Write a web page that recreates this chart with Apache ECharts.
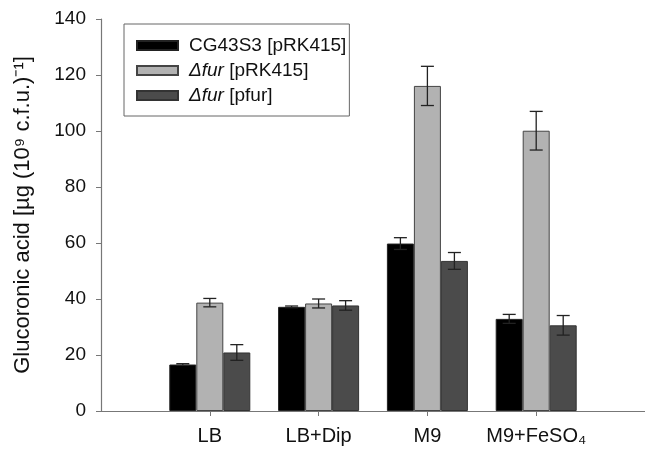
<!DOCTYPE html>
<html>
<head>
<meta charset="utf-8">
<script src="https://cdn.jsdelivr.net/npm/echarts@6/dist/echarts.min.js"></script>
<style>
    html, body { margin: 0; padding: 0; background: #fff; }
    #chart { width: 645px; height: 452px; }
</style>
</head>
<body>
<div id="chart"></div>
<script>
// 分组与数据
const groups = ['LB', 'LB+Dip', 'M9', 'M9+FeSO₄'];
const groupPos = [1, 2, 3, 4];
const seriesNames = ['CG43S3 [pRK415]', 'Δfur [pRK415]', 'Δfur [pfur]'];
const wtValues = [16.6, 37.2, 59.8, 32.9];
const wtErrors = [0.3, 0.3, 2.1, 1.6];
const furValues = [38.7, 38.4, 116.1, 100.1];
const furErrors = [1.5, 1.6, 7.0, 6.9];
const compValues = [20.9, 37.7, 53.6, 30.6];
const compErrors = [2.8, 1.7, 3.0, 3.5];

const font = '"Liberation Sans", Arial, Helvetica, sans-serif';
const barW = 27;

function toPairs(values) {
    return values.map((v, i) => [groupPos[i], v]);
}
function toErr(values, errs) {
    return values.map((v, i) => [groupPos[i], v, errs[i]]);
}

// 误差线
function errRender(offset) {
    return function (params, api) {
        var x = api.value(0), v = api.value(1), e = api.value(2);
        var top = api.coord([x, v + e]);
        var bot = api.coord([x, v - e]);
        var cx = top[0] + offset;
        var h = 6.5;
        var st = { stroke: '#222', lineWidth: 1.3 };
        return {
            type: 'group',
            children: [
                { type: 'line', shape: { x1: cx, y1: top[1], x2: cx, y2: bot[1] }, style: st },
                { type: 'line', shape: { x1: cx - h, y1: top[1], x2: cx + h, y2: top[1] }, style: st },
                { type: 'line', shape: { x1: cx - h, y1: bot[1], x2: cx + h, y2: bot[1] }, style: st }
            ]
        };
    };
}

var myChart = echarts.init(document.getElementById('chart'));
var option = {
    animation: false,
    backgroundColor: '#fff',
    grid: { left: 101, right: 0, top: 19, bottom: 41 },
    legend: {
        data: seriesNames,
        orient: 'vertical',
        left: 124,
        top: 24,
        padding: [12, 3, 11, 12],
        itemGap: 6,
        itemWidth: 41,
        itemHeight: 9,
        borderColor: '#666',
        borderWidth: 1,
        icon: 'rect',
        textStyle: {
            fontFamily: font,
            fontSize: 19,
            color: '#111',
            padding: [0, 0, 0, 6],
            rich: {
                i: { fontFamily: font, fontSize: 19, fontStyle: 'italic', color: '#111' }
            }
        },
        formatter: function (name) {
            if (name.indexOf('Δfur') === 0) {
                return '{i|Δfur} ' + name.slice(5);
            }
            return name;
        }
    },
    xAxis: {
        type: 'value',
        min: 0,
        max: 5,
        interval: 1,
        splitLine: { show: false },
        axisLine: { lineStyle: { color: '#777', width: 1.2 } },
        axisTick: { customValues: groupPos, length: 5, lineStyle: { color: '#777' } },
        axisLabel: {
            customValues: groupPos,
            margin: 15,
            fontFamily: font,
            fontSize: 20,
            color: '#111',
            formatter: function (v) { return groups[v - 1]; }
        }
    },
    yAxis: {
        type: 'value',
        min: 0,
        max: 140,
        interval: 20,
        name: 'Glucoronic acid [µg (10⁹ c.f.u.)⁻¹]',
        nameLocation: 'middle',
        nameGap: 67,
        nameTextStyle: { fontFamily: font, fontSize: 22, color: '#111' },
        splitLine: { show: false },
        axisLine: { show: true, lineStyle: { color: '#777', width: 1.2 } },
        axisTick: { show: true, length: 5, lineStyle: { color: '#777' } },
        axisLabel: { margin: 15, fontFamily: font, fontSize: 19, color: '#111' }
    },
    series: [
        {
            name: seriesNames[0], type: 'bar', data: toPairs(wtValues),
            barWidth: barW, barGap: '0%',
            itemStyle: { color: '#000', borderColor: '#222', borderWidth: 1 }
        },
        {
            name: seriesNames[1], type: 'bar', data: toPairs(furValues),
            barWidth: barW, barGap: '0%',
            itemStyle: { color: '#b2b2b2', borderColor: '#444', borderWidth: 1 }
        },
        {
            name: seriesNames[2], type: 'bar', data: toPairs(compValues),
            barWidth: barW, barGap: '0%',
            itemStyle: { color: '#4b4b4b', borderColor: '#333', borderWidth: 1 }
        },
        { type: 'custom', renderItem: errRender(-barW), data: toErr(wtValues, wtErrors), z: 10 },
        { type: 'custom', renderItem: errRender(0), data: toErr(furValues, furErrors), z: 10 },
        { type: 'custom', renderItem: errRender(barW), data: toErr(compValues, compErrors), z: 10 }
    ]
};
myChart.setOption(option);
window.onresize = function () {
    myChart.resize();
};
</script>
</body>
</html>
